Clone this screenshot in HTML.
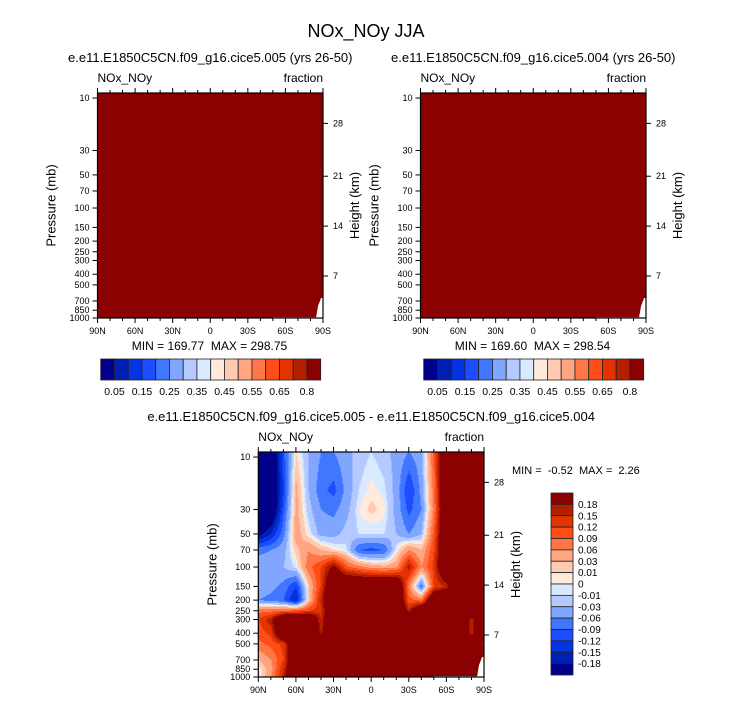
<!DOCTYPE html>
<html><head><meta charset="utf-8"><style>
html,body{margin:0;padding:0;background:#fff;}
svg{display:block;font-family:"Liberation Sans",Arial,sans-serif;}
.pre{white-space:pre;}
</style></head><body>
<svg id="fig" width="733" height="701" viewBox="0 0 733 701">
<text x="366" y="37" text-anchor="middle" font-size="18">NOx_NOy JJA</text>
<g id="plots"></g>
</svg>
<script>
// ---------- data ----------
const levels = [-0.18,-0.15,-0.12,-0.09,-0.06,-0.03,-0.01,0,0.01,0.03,0.06,0.09,0.12,0.15,0.18];
const colors = ["#00008b","#0020b4","#0333e3","#1c4dff","#4177ff","#80a6ff","#b3c9ff","#d9eaff","#ffeadb","#ffcab2","#ffa680","#ff7747","#ff4d1a","#e33300","#b41f00","#8b0000"];
const topLabels = ["0.05","0.15","0.25","0.35","0.45","0.55","0.65","0.8"];
const diffLabels = ["0.18","0.15","0.12","0.09","0.06","0.03","0.01","0","-0.01","-0.03","-0.06","-0.09","-0.12","-0.15","-0.18"];
const latTicks = ["90N","60N","30N","0","30S","60S","90S"];
const pTicks = [10,30,50,70,100,150,200,250,300,400,500,700,850,1000];
const kmTicks = ["28","21","14","7"];
const kmP = [17,51.4,146,415];
const lats = [90,80,70,60,50,40,30,20,10,0,-10,-20,-30,-40,-50,-60,-70,-80,-90];
const plevs = [9,20,30,50,70,100,150,200,250,300,400,500,700,850,1000];
const p10 =   [-0.25,-0.25,-0.10,0.01,-0.03,-0.06,-0.06,-0.04,-0.02,-0.01,-0.02,-0.04,-0.06,-0.04,0.10,0.3,0.3,0.3,0.3];
const p20 =   [-0.25,-0.25,-0.12,0.04,-0.03,-0.08,-0.10,-0.05,-0.01,0.005,-0.005,-0.04,-0.12,-0.05,0.08,0.3,0.3,0.3,0.3];
const p30 =   [-0.25,-0.25,-0.10,0.04,-0.02,-0.06,-0.07,-0.04,0.00,0.015,0.005,-0.04,-0.10,-0.06,0.07,0.3,0.3,0.3,0.3];
const p50 =   [-0.20,-0.15,-0.07,0.05,0.00,-0.04,-0.04,-0.02,-0.01,-0.01,-0.01,-0.03,-0.06,-0.03,0.10,0.3,0.3,0.3,0.3];
const p70 =   [-0.07,-0.06,-0.04,0.02,0.06,0.03,0.01,-0.005,-0.09,-0.10,-0.09,0.00,0.06,0.03,0.12,0.3,0.3,0.3,0.3];
const p100 =  [-0.04,-0.04,-0.03,-0.005,0.08,0.12,0.20,0.10,0.07,0.05,0.04,0.05,0.17,0.06,0.13,0.3,0.3,0.3,0.3];
const p150 =  [-0.04,-0.05,-0.07,-0.12,0.02,0.13,0.3,0.3,0.3,0.3,0.3,0.3,0.07,-0.08,0.12,0.16,0.3,0.3,0.3];
const p200 =  [-0.06,-0.07,-0.09,-0.16,0.02,0.16,0.3,0.3,0.3,0.3,0.3,0.3,0.10,0.08,0.3,0.3,0.3,0.3,0.3];
const p250 =  [0.08,0.08,0.09,0.10,0.12,0.14,0.3,0.3,0.3,0.3,0.3,0.3,0.16,0.3,0.3,0.3,0.3,0.3,0.3];
const p300 =  [0.12,0.17,0.3,0.3,0.3,0.15,0.3,0.3,0.3,0.3,0.3,0.3,0.3,0.3,0.3,0.3,0.3,0.16,0.3];
const p400 =  [0.10,0.13,0.3,0.3,0.3,0.17,0.3,0.3,0.3,0.3,0.3,0.3,0.3,0.3,0.3,0.3,0.3,0.16,0.3];
const p500 =  [0.08,0.10,0.13,0.3,0.3,0.3,0.3,0.3,0.3,0.3,0.3,0.3,0.3,0.3,0.3,0.3,0.3,0.3,0.16];
const p700 =  [0.03,0.06,0.12,0.3,0.3,0.3,0.3,0.3,0.3,0.3,0.3,0.3,0.3,0.3,0.3,0.3,0.3,0.3,0.3];
const p850 =  [0.00,0.05,0.15,0.3,0.3,0.3,0.3,0.3,0.3,0.3,0.3,0.3,0.3,0.3,0.3,0.3,0.3,0.3,0.3];
const p1000 = [-0.01,0.06,0.16,0.3,0.3,0.3,0.3,0.3,0.3,0.3,0.3,0.3,0.3,0.3,0.3,0.3,0.3,0.3,0.3];
const diffRows = [p10,p20,p30,p50,p70,p100,p150,p200,p250,p300,p400,p500,p700,p850,p1000];
const topMin = [169.77,169.60];
const topMax = [298.75,298.54];
const diffMin = [-0.52];
const diffMax = [2.26];

// ---------- helpers ----------
const NS="http://www.w3.org/2000/svg";
const root=document.getElementById('plots');
const PTOP=9, PBOT=1000;
const LT=Math.log10(PTOP), LB=Math.log10(PBOT);
function mk(tag,attrs,parent){const e=document.createElementNS(NS,tag);for(const k in attrs)e.setAttribute(k,attrs[k]);(parent||root).appendChild(e);return e;}
function levelIndex(v){let i=0;while(i<levels.length&&v>=levels[i])i++;return i;}
function fieldAt(lat,p){
  let fi=(90-lat)/10; fi=Math.max(0,Math.min(lats.length-1.0001,fi));
  const lp=Math.log10(p); let j=0;
  while(j<plevs.length-2&&Math.log10(plevs[j+1])<lp)j++;
  const l0=Math.log10(plevs[j]),l1=Math.log10(plevs[j+1]);
  let t=(lp-l0)/(l1-l0);t=Math.max(0,Math.min(1,t));
  const i=Math.floor(fi),s=fi-i;
  const a=diffRows[j][i]*(1-s)+diffRows[j][i+1]*s;
  const b=diffRows[j+1][i]*(1-s)+diffRows[j+1][i+1]*s;
  return a*(1-t)+b*t;
}

function drawPanel(x0,y0,W,H,title,unitLabel,fill){
  const g=mk('g',{});
  
  
  const xs=lat=>x0+(90-lat)/180*W;
  const ys=p=>y0+(Math.log10(p)-LT)/(LB-LT)*H;
  fill(g,xs,ys);
  const notch=mk('path',{d:`M${x0+W-7} ${y0+H} L${x0+W-6} ${y0+H-6} L${x0+W-5} ${y0+H-12} L${x0+W-3} ${y0+H-17} L${x0+W-2} ${y0+H-20} L${x0+W} ${y0+H-20} L${x0+W} ${y0+H} Z`,fill:'#fff'},g);
  
  
  mk('line',{x1:xs(-50),x2:x0+W-7,y1:y0+H-0.5,y2:y0+H-0.5,stroke:'#999','stroke-width':1},g);
  const fr=mk('rect',{x:x0,y:y0,width:W,height:H,fill:'none',stroke:'#000','stroke-width':1.2},g);
  
  
  for(let lat=90;lat>=-90;lat-=10){
    const major=lat%30===0,len=major?5:3,x=xs(lat);
    mk('line',{x1:x,x2:x,y1:y0+H,y2:y0+H+len,stroke:'#000'},g);
    mk('line',{x1:x,x2:x,y1:y0,y2:y0-len,stroke:'#000'},g);
  }
  latTicks.forEach((t,i)=>{
    const tx=mk('text',{x:x0+i*W/6,y:y0+H+16,'text-anchor':'middle','font-size':9},g);
    tx.textContent=t;
    
    
  });
  pTicks.forEach(p=>{
    const y=ys(p);
    mk('line',{x1:x0-5,x2:x0,y1:y,y2:y,stroke:'#000'},g);
    const tx=mk('text',{x:x0-8,y:y+3,'text-anchor':'end','font-size':9},g);
    tx.textContent=p;
    
    
  });
  kmTicks.forEach((k,i)=>{
    const y=ys(kmP[i]);
    mk('line',{x1:x0+W,x2:x0+W+5,y1:y,y2:y,stroke:'#000'},g);
    const tx=mk('text',{x:x0+W+10,y:y+3,'font-size':9},g);
    tx.textContent=k;
    
    
  });
  const yl=mk('text',{transform:`translate(${x0-42},${y0+H/2}) rotate(-90)`,'text-anchor':'middle','font-size':13},g);
  yl.textContent='Pressure (mb)';
  
  
  const yr=mk('text',{transform:`translate(${x0+W+36},${y0+H/2}) rotate(-90)`,'text-anchor':'middle','font-size':13},g);
  yr.textContent='Height (km)';
  
  
  const lt=mk('text',{x:x0,y:y0-11,'font-size':12},g);
  lt.textContent='NOx_NOy';
  
  
  const rt=mk('text',{x:x0+W,y:y0-11,'text-anchor':'end','font-size':12},g);
  rt.textContent=unitLabel;
  
  
  const st=mk('text',{x:x0+W/2,y:y0-31,'text-anchor':'middle','font-size':13},g);
  st.textContent=title;
  
  
  return {g,xs,ys};
}

// ---------- top panels ----------
const topTitles=["e.e11.E1850C5CN.f09_g16.cice5.005 (yrs 26-50)","e.e11.E1850C5CN.f09_g16.cice5.004 (yrs 26-50)"];
[97.5,420.5].forEach((x0,k)=>{
  drawPanel(x0,93,225.5,225,topTitles[k],'fraction',(g,xs,ys)=>{
    const r=mk('rect',{x:xs(90),y:ys(PTOP),width:xs(-90)-xs(90),height:ys(PBOT)-ys(PTOP),fill:colors[levelIndex(topMin[k])]},g);
    
    
  });
  const mm=mk('text',{x:x0+112,y:350,'text-anchor':'middle','font-size':12,'class':'pre'});
  mm.textContent=`MIN = ${topMin[k].toFixed(2)}  MAX = ${topMax[k].toFixed(2)}`;
  
  
  const cb=mk('g',{});
  
  
  const bx=x0+3.2,bw=220/16;
  colors.forEach((c,i)=>{
    const r=mk('rect',{x:bx+i*bw,y:359,width:bw,height:21,fill:c,stroke:'#222','stroke-width':0.8},cb);
    
    
  });
  topLabels.forEach((t,i)=>{
    const tx=mk('text',{x:bx+(1+2*i)*bw,y:395,'text-anchor':'middle','font-size':10.5},cb);
    tx.textContent=t;
    
    
  });
});

// ---------- difference panel ----------
const bx0=258.3,by0=452,BW=225.7,BH=225;
drawPanel(bx0,by0,BW,BH,'e.e11.E1850C5CN.f09_g16.cice5.005 - e.e11.E1850C5CN.f09_g16.cice5.004','fraction',(g,xs,ys)=>{
  const fg=mk('g',{'shape-rendering':'crispEdges'},g);
  
  
  for(let r=0;r<BH;r++){
    const p=Math.pow(10,LT+(r+0.5)/BH*(LB-LT));
    let start=0,cur=-1;
    for(let c=0;c<=Math.ceil(BW);c++){
      let idx=-2;
      if(c<Math.ceil(BW)){const lat=90-(c+0.5)/BW*180;idx=levelIndex(fieldAt(lat,p));}
      if(idx!==cur){
        if(cur>=0){
          const rc=mk('rect',{x:bx0+start,y:by0+r,width:c-start+0.3,height:1.3,fill:colors[cur]},fg);
          
          
        }
        start=c;cur=idx;
      }
    }
  }
});
const dm=mk('text',{x:512,y:474,'font-size':11,'class':'pre'});
dm.textContent=`MIN =  ${diffMin[0].toFixed(2)}  MAX =  ${diffMax[0].toFixed(2)}`;


const vcb=mk('g',{});


const vy0=493,vh=182/16;
colors.slice().reverse().forEach((c,i)=>{
  const r=mk('rect',{x:551,y:vy0+i*vh,width:22,height:vh,fill:c,stroke:'#222','stroke-width':0.8},vcb);
  
  
});
diffLabels.forEach((t,i)=>{
  const tx=mk('text',{x:578,y:vy0+(i+1)*vh+3.5,'font-size':10},vcb);
  tx.textContent=t;
  
  
});
</script>
</body></html>
